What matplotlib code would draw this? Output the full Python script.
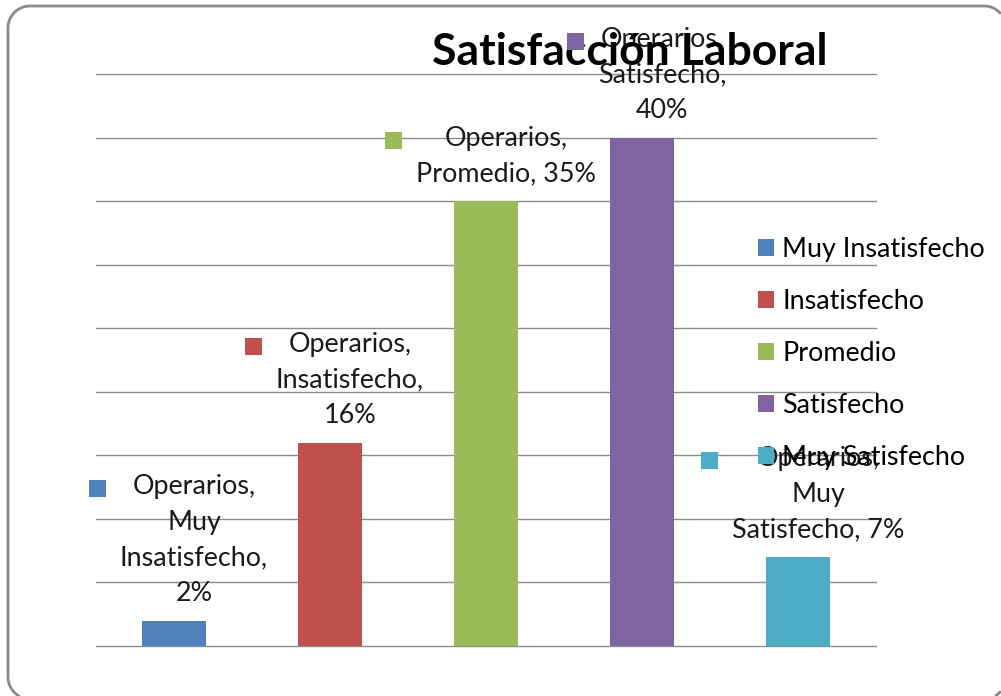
import numpy as np
import matplotlib
matplotlib.use("Agg")
import matplotlib.pyplot as plt
from matplotlib.patches import Patch, Rectangle
from matplotlib.lines import Line2D
from matplotlib.transforms import IdentityTransform

plt.rcParams['font.family'] = ['Lato', 'DejaVu Sans']

serie = "Operarios"
categorias = ["Muy Insatisfecho", "Insatisfecho", "Promedio", "Satisfecho", "Muy Satisfecho"]
valores = [2, 16, 35, 40, 7]
etiquetas = [
    "Operarios,\nMuy\nInsatisfecho,\n2%",
    "Operarios,\nInsatisfecho,\n16%",
    "Operarios,\nPromedio, 35%",
    "Operarios,\nSatisfecho,\n40%",
    "Operarios,\nMuy\nSatisfecho, 7%",
]
colores = ["#4F81BD", "#C0504D", "#9BBB59", "#8064A2", "#4BACC6"]

W, H = 1001, 696
fig = plt.figure(figsize=(W / 100, H / 100), dpi=100)

# rounded chart frame, only the part that falls inside the canvas (pixels, origin bottom-left)
x0, y0, x1, y1, rr = 8, -3, 1006, 690, 22
def arc(cx, cy, t0, t1):
    t = np.radians(np.linspace(t0, t1, 30))
    return cx + rr * np.cos(t), cy + rr * np.sin(t)

bx, by = arc(x0 + rr, y0 + rr, 242, 180)
lx, ly = arc(x0 + rr, y1 - rr, 180, 90)
tx, ty = arc(x1 - rr, y1 - rr, 90, 40)
px = np.concatenate([bx, lx, tx])
py = np.concatenate([by, ly, ty])
fig.add_artist(Line2D(px, py, transform=IdentityTransform(), color="#8a8a8a",
                      linewidth=2, solid_capstyle="butt"))
rx, ry = arc(x1 - rr, y0 + rr, 300, 320)
fig.add_artist(Line2D(rx, ry, transform=IdentityTransform(), color="#8a8a8a",
                      linewidth=2, solid_capstyle="butt"))

ax = fig.add_axes([96 / W, (H - 646) / H, 780 / W, (646 - 74) / H])
x = range(len(valores))
ax.bar(x, valores, width=0.405, color=colores, zorder=2)
ax.set_xlim(-0.5, len(valores) - 0.5)
ax.set_ylim(0, 45)
ax.set_yticks(range(0, 50, 5))
ax.yaxis.grid(True, color="#8c8c8c", linewidth=1.0)
for gl in ax.get_ygridlines():
    gl.set_clip_on(False)
ax.set_axisbelow(True)
ax.tick_params(left=False, bottom=False, labelleft=False, labelbottom=False)
for s in ax.spines.values():
    s.set_visible(False)

fs = 19.4
fpx = fs * 100 / 72
anns = []
for i, v in enumerate(valores):
    a = ax.annotate(etiquetas[i], (i, v), xytext=(20, 15), textcoords="offset pixels",
                    ha="center", va="bottom", multialignment="center",
                    fontsize=fs, color="#1a1a1a", linespacing=1.52, zorder=5)
    anns.append(a)

fig.text(630 / W, 1 - 52 / H, "Satisfacción Laboral", ha="center", va="center",
         fontsize=32, fontweight="bold", color="black")

handles = [Patch(facecolor=c, edgecolor="none") for c in colores]
ax.legend(handles, categorias, loc="upper left", bbox_to_anchor=(758 / W, 1 - 237 / H),
          bbox_transform=fig.transFigure, frameon=False, fontsize=fs,
          borderpad=0, borderaxespad=0, handlelength=0.6, handleheight=0.6,
          handletextpad=0.3, labelspacing=1.0)

# legend keys inside the data labels
fig.canvas.draw()
r = fig.canvas.get_renderer()
for i, a in enumerate(anns):
    bb = a.get_window_extent(r)
    yc = bb.y1 - 0.5 * fpx - 1
    key = Rectangle((bb.x0 - 14 - 17, yc - 8.5), 17, 17, transform=IdentityTransform(),
                    facecolor=colores[i], edgecolor="none", zorder=6)
    fig.add_artist(key)

fig.savefig("out.png", dpi=100)
